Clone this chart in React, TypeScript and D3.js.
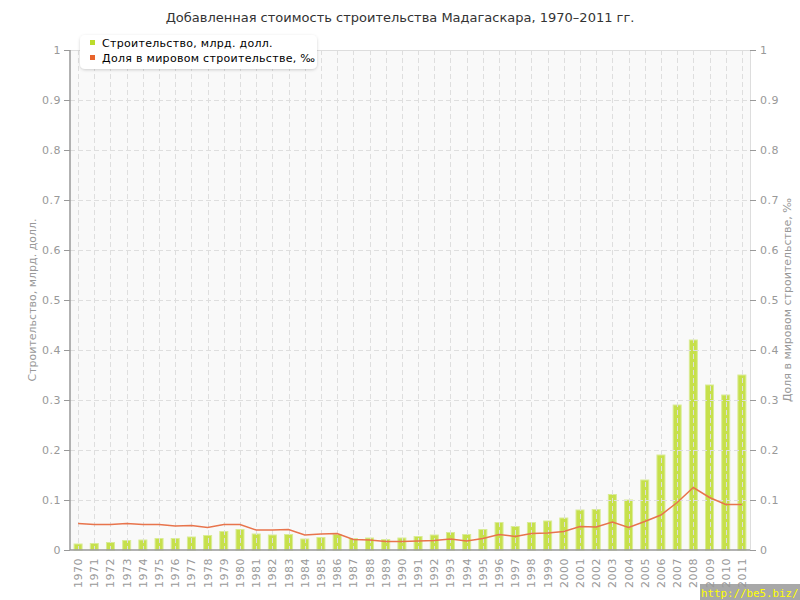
import React, { useEffect, useRef } from 'react';
import * as d3 from 'd3';

const years: string[] = [
  '1970', '1971', '1972', '1973', '1974', '1975', '1976', '1977', '1978', '1979',
  '1980', '1981', '1982', '1983', '1984', '1985', '1986', '1987', '1988', '1989',
  '1990', '1991', '1992', '1993', '1994', '1995', '1996', '1997', '1998', '1999',
  '2000', '2001', '2002', '2003', '2004', '2005', '2006', '2007', '2008', '2009',
  '2010', '2011',
];

// Строительство, млрд. долл.
const construction: number[] = [
  0.012, 0.013, 0.015, 0.019, 0.020, 0.023, 0.023, 0.026, 0.029, 0.037,
  0.041, 0.032, 0.030, 0.031, 0.022, 0.025, 0.031, 0.023, 0.024, 0.021,
  0.024, 0.027, 0.030, 0.035, 0.031, 0.041, 0.055, 0.047, 0.055, 0.058,
  0.064, 0.080, 0.081, 0.111, 0.100, 0.140, 0.190, 0.290, 0.420, 0.330,
  0.310, 0.350,
];

// Доля в мировом строительстве, ‰
const worldShare: number[] = [
  0.053, 0.051, 0.051, 0.053, 0.051, 0.051, 0.048, 0.049, 0.045, 0.051,
  0.051, 0.040, 0.040, 0.041, 0.030, 0.032, 0.033, 0.021, 0.020, 0.017,
  0.017, 0.018, 0.019, 0.022, 0.018, 0.023, 0.031, 0.027, 0.033, 0.034,
  0.037, 0.047, 0.046, 0.056, 0.045, 0.057, 0.070, 0.095, 0.125, 0.105,
  0.091, 0.091,
];

const yTicks: number[] = [0, 0.1, 0.2, 0.3, 0.4, 0.5, 0.6, 0.7, 0.8, 0.9, 1];

const title = 'Добавленная стоимость строительства Мадагаскара, 1970–2011 гг.';
const leftTitle = 'Строительство, млрд. долл.';
const rightTitle = 'Доля в мировом строительстве, ‰';

const App: React.FC = () => {
  const svgRef = useRef<SVGSVGElement>(null);

  useEffect(() => {
    if (!svgRef.current) return;

    const width = 800;
    const height = 600;
    const left = 70, right = 750, top = 50, bottom = 550;
    const font = 'DejaVu Sans, Verdana, sans-serif';

    const svg = d3.select(svgRef.current)
      .attr('width', width)
      .attr('height', height);

    svg.selectAll('*').remove();

    svg.append('rect').attr('width', width).attr('height', height).attr('fill', '#ffffff');

    const defs = svg.append('defs');
    const shadow = defs.append('filter').attr('id', 'legendShadow')
      .attr('x', '-10%').attr('y', '-30%').attr('width', '120%').attr('height', '160%');
    shadow.append('feDropShadow')
      .attr('dx', 0).attr('dy', 1).attr('stdDeviation', 1.5)
      .attr('flood-color', '#000').attr('flood-opacity', 0.18);

    const x = d3.scaleBand<string>().domain(years).range([left, right]);
    const y = d3.scaleLinear().domain([0, 1]).range([bottom, top]);
    const cx = (d: string) => (x(d) as number) + x.bandwidth() / 2;

    // plot background
    svg.append('rect')
      .attr('x', left).attr('y', top)
      .attr('width', right - left).attr('height', bottom - top)
      .attr('fill', '#f9f9f9');

    // bars
    const barW = 8;
    svg.append('g').selectAll('rect')
      .data(years)
      .enter().append('rect')
      .attr('x', d => cx(d) - barW / 2)
      .attr('y', (_, i) => y(construction[i]))
      .attr('width', barW)
      .attr('height', (_, i) => bottom - y(construction[i]))
      .attr('fill', '#c6e04b')
      .attr('stroke', '#d9ec95')
      .attr('stroke-width', 1);

    // grid
    const grid = svg.append('g')
      .attr('stroke', '#dedede')
      .attr('stroke-dasharray', '5,3')
      .attr('stroke-width', 1);
    grid.selectAll('line.v')
      .data(years)
      .enter().append('line')
      .attr('class', 'v')
      .attr('x1', d => Math.round(cx(d)) + 0.5)
      .attr('x2', d => Math.round(cx(d)) + 0.5)
      .attr('y1', top)
      .attr('y2', bottom);
    grid.selectAll('line.h')
      .data(yTicks.filter(t => t > 0 && t < 1))
      .enter().append('line')
      .attr('class', 'h')
      .attr('x1', left)
      .attr('x2', right)
      .attr('y1', d => Math.round(y(d)) + 0.5)
      .attr('y2', d => Math.round(y(d)) + 0.5);

    // top and right borders
    svg.append('line')
      .attr('x1', left).attr('x2', right)
      .attr('y1', top + 0.5).attr('y2', top + 0.5)
      .attr('stroke', '#dddddd');
    svg.append('line')
      .attr('x1', right + 0.5).attr('x2', right + 0.5)
      .attr('y1', top).attr('y2', bottom)
      .attr('stroke', '#dddddd');

    // share line
    const line = d3.line<number>()
      .x((_, i) => cx(years[i]))
      .y(d => y(d));
    svg.append('path')
      .datum(worldShare)
      .attr('d', line)
      .attr('fill', 'none')
      .attr('stroke', '#e8744c')
      .attr('stroke-width', 1.5);

    // left axis
    svg.append('line')
      .attr('x1', left).attr('x2', left)
      .attr('y1', top).attr('y2', bottom)
      .attr('stroke', '#999999').attr('stroke-width', 1.5);
    svg.append('line')
      .attr('x1', left).attr('x2', right)
      .attr('y1', bottom).attr('y2', bottom)
      .attr('stroke', '#999999').attr('stroke-width', 1.5);

    const leftAxis = svg.append('g');
    leftAxis.selectAll('line')
      .data(yTicks)
      .enter().append('line')
      .attr('x1', left - 6).attr('x2', left)
      .attr('y1', d => Math.round(y(d)) + 0.5)
      .attr('y2', d => Math.round(y(d)) + 0.5)
      .attr('stroke', '#999999');
    leftAxis.selectAll('text')
      .data(yTicks)
      .enter().append('text')
      .attr('x', left - 9)
      .attr('y', d => y(d) + 4)
      .attr('text-anchor', 'end')
      .attr('font-family', font)
      .attr('font-size', 11)
      .attr('letter-spacing', 0.5)
      .attr('fill', '#999999')
      .text(d => d3.format('~g')(d));

    const rightAxis = svg.append('g');
    rightAxis.selectAll('line')
      .data(yTicks)
      .enter().append('line')
      .attr('x1', right).attr('x2', right + 6)
      .attr('y1', d => Math.round(y(d)) + 0.5)
      .attr('y2', d => Math.round(y(d)) + 0.5)
      .attr('stroke', '#999999');
    rightAxis.selectAll('text')
      .data(yTicks)
      .enter().append('text')
      .attr('x', right + 10)
      .attr('y', d => y(d) + 4)
      .attr('text-anchor', 'start')
      .attr('font-family', font)
      .attr('font-size', 11)
      .attr('letter-spacing', 0.5)
      .attr('fill', '#999999')
      .text(d => d3.format('~g')(d));

    // x labels
    svg.append('g').selectAll('text')
      .data(years)
      .enter().append('text')
      .attr('transform', d => `translate(${cx(d) + 4},${bottom + 8}) rotate(-90)`)
      .attr('text-anchor', 'end')
      .attr('font-family', font)
      .attr('font-size', 11)
      .attr('letter-spacing', 0.5)
      .attr('fill', '#999999')
      .text(d => d);

    // axis titles
    svg.append('text')
      .attr('transform', `translate(36,${(top + bottom) / 2}) rotate(-90)`)
      .attr('text-anchor', 'middle')
      .attr('font-family', font)
      .attr('font-size', 11)
      .attr('fill', '#999999')
      .text(leftTitle);
    svg.append('text')
      .attr('transform', `translate(791,${(top + bottom) / 2}) rotate(-90)`)
      .attr('text-anchor', 'middle')
      .attr('font-family', font)
      .attr('font-size', 11)
      .attr('fill', '#999999')
      .text(rightTitle);

    // title
    svg.append('text')
      .attr('x', width / 2)
      .attr('y', 22)
      .attr('text-anchor', 'middle')
      .attr('font-family', font)
      .attr('font-size', 13)
      .attr('fill', '#333333')
      .text(title);

    // legend
    const legend = svg.append('g');
    legend.append('rect')
      .attr('x', 80).attr('y', 35)
      .attr('width', 237).attr('height', 34)
      .attr('rx', 5)
      .attr('fill', '#ffffff')
      .attr('filter', 'url(#legendShadow)');
    const items = [
      { label: leftTitle, color: '#bcdc2c' },
      { label: rightTitle, color: '#e8642c' },
    ];
    items.forEach((it, i) => {
      legend.append('rect')
        .attr('x', 90).attr('y', 40 + i * 15)
        .attr('width', 5).attr('height', 5)
        .attr('fill', it.color);
      legend.append('text')
        .attr('x', 102).attr('y', 47 + i * 15)
        .attr('font-family', font)
        .attr('font-size', 11)
        .attr('letter-spacing', 0.3)
        .attr('fill', '#000000')
        .text(it.label);
    });

    // watermark
    svg.append('rect')
      .attr('x', 700).attr('y', 584)
      .attr('width', 100).attr('height', 16)
      .attr('fill', '#999999').attr('opacity', 0.85);
    svg.append('text')
      .attr('x', 701).attr('y', 597)
      .attr('font-family', 'DejaVu Sans Mono, monospace')
      .attr('font-size', 10.8)
      .attr('fill', '#ffff00')
      .text('http://be5.biz/');
  }, []);

  return (
    <div style={{ position: 'fixed', left: 0, top: 0 }}>
      <svg ref={svgRef} style={{ display: 'block' }} />
    </div>
  );
};

export default App;
